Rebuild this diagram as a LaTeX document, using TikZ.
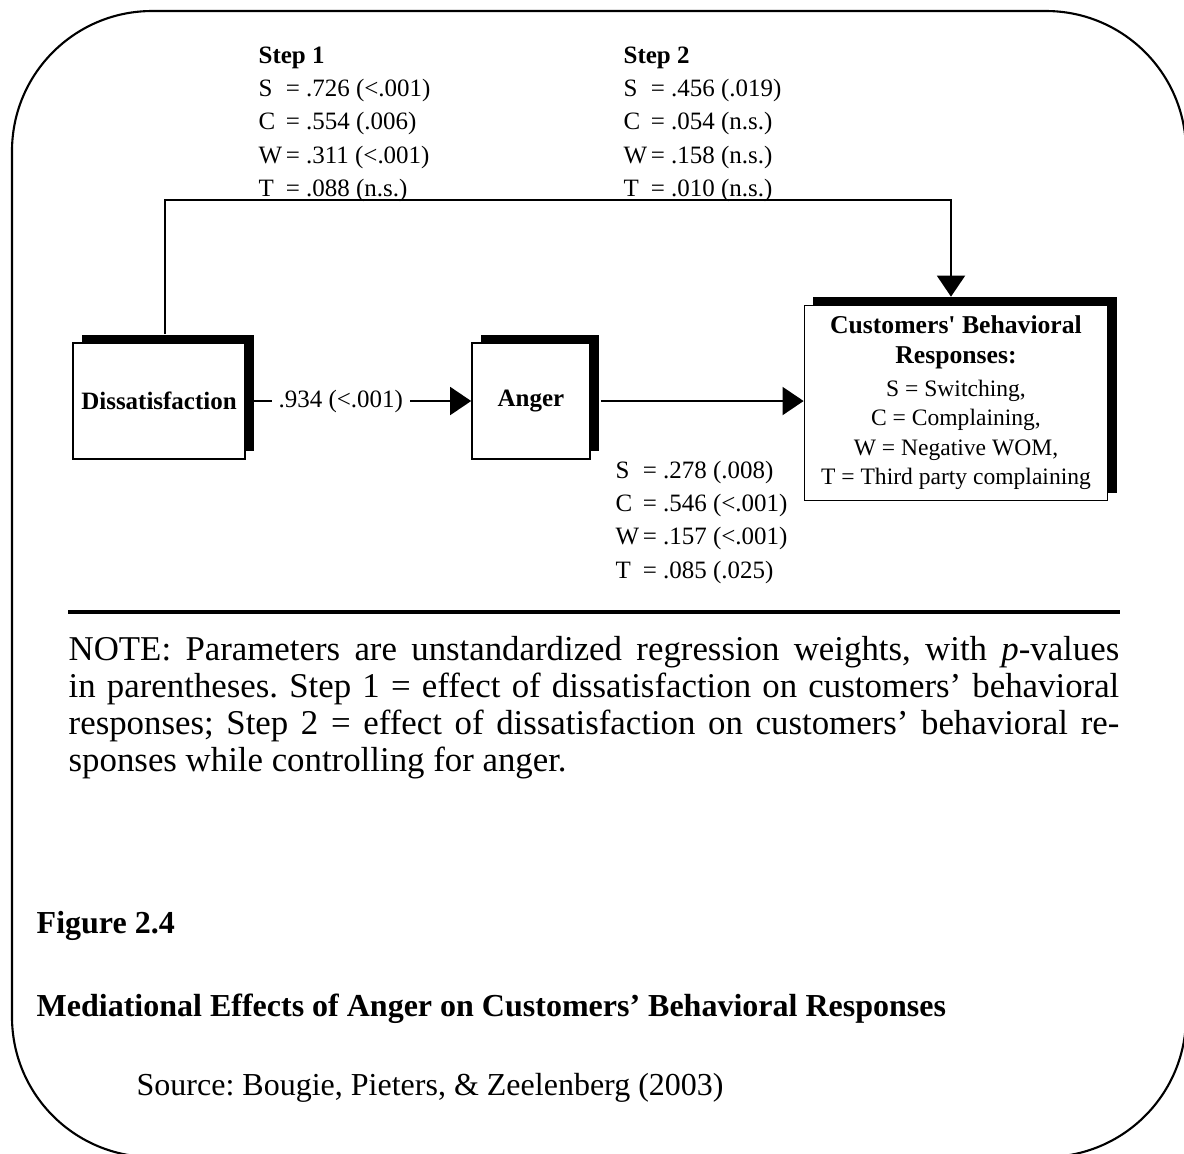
\documentclass[tikz,border=0pt]{standalone}
\usepackage{fontspec}
\setmainfont{Liberation Serif}
\usetikzlibrary{arrows.meta,shadows}
\tikzstyle{vbox}=[rectangle,draw=black,line width=0.45pt,fill=white,inner sep=1pt,drop shadow={shadow xshift=0.09cm,shadow yshift=0.08cm,fill=black,opacity=1}]
\tikzstyle{dgraph}=[-{Triangle[length=6pt,width=8pt]}, line width=0.45pt]
\tikzstyle{coef}=[font=\fontsize{7.1}{9.4}\selectfont,inner sep=0pt,anchor=north west,align=left]
\tikzstyle{capt}=[font=\fontsize{9.1}{10}\selectfont,inner sep=0pt,anchor=west]
\newcommand{\boxhead}[1]{\fontsize{7.3}{8.6}\selectfont\bfseries #1}

\begin{document}
\frenchspacing
\begin{tikzpicture}[x=0.01cm,y=-0.01cm]
\useasboundingbox (0,0) rectangle (1184,1153);
\draw[line width=0.6pt,rounded corners=1.4cm] (12,11) rectangle (1186,1157);
% boxes
\node[vbox,minimum width=1.72cm,minimum height=1.16cm,font=\fontsize{7.1}{8}\selectfont\bfseries] (dis) at (159,401) {Dissatisfaction};
\node[vbox,minimum width=1.18cm,minimum height=1.16cm,font=\fontsize{7.1}{8}\selectfont\bfseries] (ang) at (531,401) {Anger};
\node[vbox,minimum width=3.03cm,minimum height=1.95cm,align=center,font=\fontsize{6.7}{8.4}\selectfont] (cbr) at (956,403)
  {\boxhead{Customers\textquotesingle{} Behavioral}\\ \boxhead{Responses:}\\[1pt] S = Switching,\\ C = Complaining,\\ W = Negative WOM,\\ T = Third party complaining};
\coordinate (bend) at (951,200);
% paths
\draw[dgraph]([xshift=0.08cm]dis.east)--node[pos=0.4,fill=white,inner sep=2pt,font=\fontsize{7.1}{8}\selectfont]{.934 (<.001)}(ang.west);
\draw[dgraph]([xshift=0.1cm]ang.east)--(ang.east -| cbr.west);
\draw[dgraph]([shift={(6,-8)}]dis.north)|-(bend)--([shift={(-5,-8)}]cbr.north);
% coefficients
\node[coef] (step1) at (258,40) {\begin{tabular}{@{}l@{\hspace{1pt}}l@{}}\multicolumn{2}{@{}l@{}}{\textbf{Step 1}}\\ S & = .726 (<.001)\\ C & = .554 (.006)\\ W & = .311 (<.001)\\ T & = .088 (n.s.)\end{tabular}};
\node[coef] (step2) at (623,40) {\begin{tabular}{@{}l@{\hspace{1pt}}l@{}}\multicolumn{2}{@{}l@{}}{\textbf{Step 2}}\\ S & = .456 (.019)\\ C & = .054 (n.s.)\\ W & = .158 (n.s.)\\ T & = .010 (n.s.)\end{tabular}};
\node[coef] (angcoef) at (615,455) {\begin{tabular}{@{}l@{\hspace{1pt}}l@{}} S & = .278 (.008)\\ C & = .546 (<.001)\\ W & = .157 (<.001)\\ T & = .085 (.025)\end{tabular}};
% note
\draw[line width=1.4pt] (68,612)--(1120,612);
\node[inner sep=0pt,anchor=north west,align=left,font=\fontsize{9.9}{10.5}\selectfont] (note) at (68,636)
  {\makebox[10.5cm][s]{NOTE: Parameters are unstandardized regression weights, with \textit{p}-values}\\
   \makebox[10.5cm][s]{in parentheses. Step 1 = effect of dissatisfaction on customers’ behavioral}\\
   \makebox[10.5cm][s]{responses; Step 2 = effect of dissatisfaction on customers’ behavioral re-}\\
   sponses while controlling for anger.};
% caption
\node[capt,font=\fontsize{9.1}{10}\selectfont\bfseries] (fig) at (36,926) {Figure 2.4};
\node[capt,font=\fontsize{9.1}{10}\selectfont\bfseries] (title) at (36,1009) {Mediational Effects of Anger on Customers’ Behavioral Responses};
\node[capt] (src) at (136,1088) {Source: Bougie, Pieters, \& Zeelenberg (2003)};
\end{tikzpicture}
\end{document}
